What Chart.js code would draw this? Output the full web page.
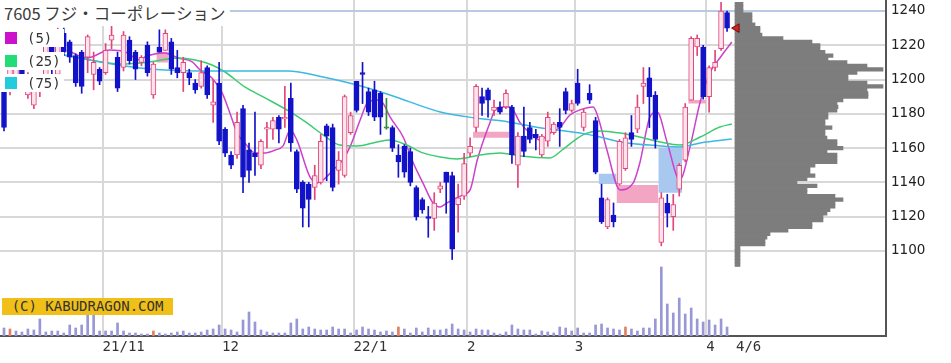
<!DOCTYPE html>
<html><head><meta charset="utf-8">
<script src="https://cdn.jsdelivr.net/npm/chart.js"></script>
<style>
html,body{margin:0;padding:0;background:#fff;}
#wrap{position:relative;width:951px;height:363px;overflow:hidden;background:#fff;}
#c{position:absolute;left:0;top:0;}
#title{position:absolute;left:0;top:0;width:230px;height:26px;background:#fff;font:16.5px "Noto Sans CJK JP";color:#3a3a3a;line-height:26px;padding-left:4px;box-sizing:border-box;white-space:nowrap;}
.lg{position:absolute;left:0;width:64px;height:18px;background:#fff;font:14px "DejaVu Sans Mono";color:#333;line-height:18px;}
.lg i{position:absolute;left:5px;top:3px;width:12px;height:12px;}
.lg span{position:absolute;left:27px;top:0;}
#copy{position:absolute;left:2px;top:298px;width:171px;height:17px;background:#f0c018;font:14px "DejaVu Sans Mono";color:#333;line-height:17px;text-align:center;white-space:nowrap;}
</style></head>
<body>
<div id="wrap">
<canvas id="c" width="951" height="363"></canvas>
<div id="title">7605 フジ・コーポレーション</div>
<div class="lg" style="top:29px"><i style="background:#cc11cc"></i><span>(5)</span></div>
<div class="lg" style="top:52px"><i style="background:#22dd77"></i><span>(25)</span></div>
<div class="lg" style="top:74px"><i style="background:#22ccdd"></i><span>(75)</span></div>
<div id="copy">(C) KABUDRAGON.COM</div>
</div>
<script>
// ---- categories: trading days ----
const tradingDays = {
  "2021-10": [7,8,11,12,13,14,15,18,19,20,21,22,25,26,27,28,29],
  "2021-11": [1,2,4,5,8,9,10,11,12,15,16,17,18,19,22,24,25,26,29,30],
  "2021-12": [1,2,3,6,7,8,9,10,13,14,15,16,17,20,21,22,23,24,27,28,29,30],
  "2022-01": [4,5,6,7,11,12,13,14,17,18,19,20,21,24,25,26,27,28,31],
  "2022-02": [1,2,3,4,7,8,9,10,14,15,16,17,18,21,22,24,25,28],
  "2022-03": [1,2,3,4,7,8,9,10,11,14,15,16,17,18,22,23,24,25,28,29,30,31],
  "2022-04": [1,4,5,6]
};
// ---- daily OHLC (yen) ----
const open = [
 1193,1195,1200,1213,1191,1185,1193,1201,1223,1203,
 1227,1222,1214,1216,1213,1203,1206,1204,1223,1213,
 1207,1223,1216,1210,1220,1191,1219,1217,1222,1207,
 1204,1204,1198,1196,1207,1185,1198,1171,1156,1156,
 1183,1159,1157,1150,1171,1171,1178,1177,1189,1158,
 1140,1139,1137,1140,1173,1172,1147,1144,1169,1199,
 1204,1193,1194,1192,1172,1172,1156,1161,1158,1137,
 1130,1120,1119,1136,1146,1144,1127,1132,1157,1172,
 1190,1194,1182,1184,1184,1184,1150,1167,1172,1168,
 1156,1164,1169,1175,1193,1182,1198,1172,1192,1176,
 1131,1114,1121,1139,1148,1169,1171,1196,1201,1191,
 1105,1128,1120,1136,1153,1188,1219,1219,1190,1207,
 1218,1239];
const high = [
 1196,1209,1214,1215,1204,1200,1200,1223,1226,1230,
 1230,1223,1215,1217,1226,1216,1207,1221,1231,1216,
 1228,1225,1217,1214,1222,1210,1229,1229,1224,1217,
 1213,1206,1200,1211,1208,1200,1210,1172,1158,1181,
 1185,1163,1181,1165,1175,1178,1179,1196,1198,1159,
 1141,1140,1150,1168,1174,1174,1158,1191,1181,1199,
 1210,1195,1199,1193,1189,1173,1162,1162,1160,1138,
 1131,1126,1134,1140,1146,1146,1139,1157,1166,1197,
 1195,1195,1188,1187,1194,1185,1169,1184,1175,1171,
 1168,1181,1175,1183,1195,1188,1206,1183,1197,1178,
 1139,1131,1128,1165,1169,1179,1191,1207,1207,1193,
 1134,1133,1133,1151,1186,1225,1226,1220,1208,1217,
 1245,1240];
const low = [
 1170,1191,1197,1199,1189,1183,1190,1199,1203,1201,
 1214,1210,1196,1192,1204,1194,1197,1203,1218,1193,
 1205,1209,1200,1208,1202,1189,1216,1217,1203,1201,
 1193,1197,1192,1195,1189,1175,1162,1155,1148,1154,
 1134,1140,1144,1148,1160,1165,1163,1172,1158,1134,
 1114,1114,1130,1139,1141,1135,1139,1143,1168,1181,
 1186,1179,1176,1168,1171,1158,1143,1143,1138,1118,
 1122,1108,1112,1134,1122,1095,1111,1130,1155,1169.5,
 1179,1178,1179,1180,1183,1151,1137,1155,1163,1159,
 1155,1161,1168,1161,1180,1181,1185,1170,1186,1145,
 1116,1113,1114,1138.5,1147,1161,1169,1186,1172,1160,
 1103,1114,1112,1132,1152,1188,1214,1188.5,1181,1205,
 1217,1228];
const close = [
 1172,1206,1211,1201,1201,1197,1197,1220,1206,1220,
 1216,1213,1198,1196,1225,1210,1199,1217,1226,1195,
 1226,1211,1206,1213,1204,1209,1216,1227,1206,1204,
 1210,1201,1194,1204,1191,1187,1164,1157,1150,1175,
 1143,1147,1155,1164,1172,1176,1171,1178,1163,1136,
 1125,1130,1144,1164,1167,1137,1153,1190,1179,1182,
 1203,1181,1178,1178,1172,1160,1152,1146,1140,1120,
 1124,1119,1128,1138,1140,1101,1131,1151,1161,1196,
 1186,1188,1184,1181,1192,1156,1167,1158,1165,1166,
 1167,1178,1174,1172,1182,1186,1186,1181,1188,1146,
 1117,1130,1117,1164,1166,1165,1184,1198,1190,1165,
 1131,1122,1127,1150,1184,1224,1224,1190,1207,1210,
 1240,1230];
// ---- volume (thousand shares) ----
const volume = [
 24,21,15,12,21,18,51,12,15,15,
 9,33,24,33,66,66,15,15,15,39,
 15,9,9,6,6,15,9,6,9,12,
 15,9,9,12,18,21,33,21,18,12,
 48,72,42,18,12,9,9,9,39,51,
 21,27,21,18,18,27,21,21,9,18,
 27,21,18,12,15,12,27,21,9,24,
 12,24,18,18,21,36,21,18,12,21,
 18,18,9,6,12,33,21,18,18,6,
 15,12,9,27,24,15,24,9,9,33,
 36,24,21,18,27,21,15,24,24,51,
 207,96,69,114,66,84,51,42,48,33,
 51,27];
const volumeMarked = [1,25,66,104];
// ---- moving averages: [day index, price] ----
const ma5 = [[10.5,1217.2],[13.9,1212.6],[17.7,1217.2],[20.3,1216.1],[22.8,1211.4],[23.6,1213.2],[26.9,1215.5],[29.1,1212.6],[31.5,1210.3],[32.8,1205.6],[34.8,1200.9],[36.5,1192.2],[37.8,1180.5],[39.0,1168.8],[40.3,1163.0],[42.0,1157.2],[43.7,1157.2],[45.4,1158.9],[46.7,1161.3],[47.9,1170.6],[49.0,1164.8],[51.2,1143.2],[52.4,1139.7],[53.4,1141.4],[55.1,1147.3],[56.7,1153.1],[57.9,1160.7],[59.6,1176.4],[60.8,1186.3],[62.4,1188.1],[63.4,1186.3],[64.6,1178.2],[66.8,1166.5],[68.5,1151.3],[70.1,1139.7],[71.8,1128.0],[73.0,1125.7],[74.1,1128.0],[75.1,1129.8],[76.8,1132.7],[78.0,1135.6],[79.2,1153.1],[81.3,1174.7],[82.2,1182.3],[83.5,1184.0],[84.7,1184.0],[86.4,1174.7],[88.0,1168.8],[89.7,1164.8],[91.4,1168.8],[93.1,1172.3],[94.7,1179.3],[96.4,1182.3],[98.6,1184.0],[99.4,1178.2],[100.9,1158.9],[103.1,1135.6],[105.3,1139.7],[106.4,1151.3],[108.1,1178.2],[109.3,1181.1],[111.0,1163.0],[113.1,1141.4],[114.8,1160.7],[116.5,1186.9],[118.2,1204.4],[119.8,1212.6],[121.8,1221.9]];
const ma25 = [[10.0,1214.3],[14.4,1211.4],[19.4,1209.1],[24.4,1210.3],[29.1,1212.6],[32.0,1211.4],[34.8,1208.5],[37.0,1204.4],[40.3,1195.7],[43.7,1189.3],[47.9,1181.1],[50.7,1174.7],[53.4,1167.7],[56.2,1161.8],[59.1,1161.3],[62.4,1163.6],[64.6,1164.8],[67.4,1161.8],[70.1,1157.2],[73.0,1154.8],[75.8,1153.7],[79.7,1156.0],[83.0,1157.2],[86.4,1155.4],[91.4,1154.3],[93.4,1158.9],[95.6,1164.8],[97.2,1168.3],[99.7,1170.0],[103.1,1168.8],[106.4,1166.5],[109.8,1163.6],[113.1,1161.8],[116.5,1166.5],[119.8,1172.3],[121.8,1174.1]];
const ma75 = [[10.0,1214.3],[16.1,1210.3],[22.8,1206.8],[26.9,1205.6],[37.0,1205.0],[47.5,1205.0],[53.4,1201.5],[59.1,1196.8],[64.6,1191.0],[73.0,1181.1],[78.8,1177.6],[84.4,1175.3],[88.9,1172.3],[97.2,1168.3],[99.7,1166.5],[103.1,1163.6],[109.8,1161.3],[113.1,1160.7],[116.5,1163.0],[121.8,1165.3]];
// ---- price-by-volume profile ----
const profilePrice = [1092,1094,1096,1098,1100,1102,1104,1106,1108,1110,1112,1114,1116,1118,1120,1122,1124,1126,1128,1130,1132,1134,1136,1138,1140,1142,1144,1146,1148,1150,1152,1154,1156,1158,1160,1162,1164,1166,1168,1170,1172,1174,1176,1178,1180,1182,1184,1186,1188,1190,1192,1194,1196,1198,1200,1202,1204,1206,1208,1210,1212,1214,1216,1218,1220,1222,1224,1226,1228,1230,1232,1234,1236,1238,1240,1242,1244];
const profileVolume = [5,5,5,5,5,5,30,30,32,35,53,77,77,88,88,92,95,100,100,108,100,72,72,82,62,72,80,75,75,80,102,102,102,92,108,102,102,92,90,90,97,90,90,93,93,102,103,102,108,133,133,132,148,132,113,113,122,148,132,112,93,98,90,85,85,77,48,27,25,25,20,17,17,17,8,8,8];
// ---- price gaps (windows): [first day, last day open, low, high, up?] ----
const gaps = [[26,27,1210,1216,1],[79,84,1166,1169.5,1],[100,102,1139,1145,0],[103,109,1128,1138.5,1],[110,113,1134,1160,0],[115,117,1186,1188,1]];
const priceTicks = [1100,1120,1140,1160,1180,1200,1220,1240];

// ---- build ----
const dates = [];
for (const [ym, days] of Object.entries(tradingDays)) {
  const [y, m] = ym.split('-').map(Number);
  days.forEach(d => dates.push({y, m, d}));
}
const N = dates.length;
const monthTicks = [];
for (let i = 1; i < N; i++) {
  if (dates[i].m !== dates[i-1].m) {
    const full = monthTicks.length === 0 || dates[i].m === 1;
    monthTicks.push({pos: i - 0.5, label: full ? String(dates[i].y).slice(2) + '/' + dates[i].m : String(dates[i].m), grid: true});
  }
}
monthTicks.push({pos: N + 0.5, label: dates[N-1].m + '/' + dates[N-1].d, grid: false});

const UP = '#e2457a', UPFILL = '#fce4ec', DOWN = '#1212c8', EVEN = '#2e8b3a';
const idx = [...Array(N).keys()];
const kind = i => close[i] > open[i] ? 'up' : (close[i] < open[i] ? 'down' : 'even');
const lineCol = i => ({up: UP, down: DOWN, even: EVEN})[kind(i)];
const fillCol = i => ({up: UPFILL, down: DOWN, even: EVEN})[kind(i)];

const datasets = [];
gaps.forEach(g => {
  datasets.push({
    type: 'line', order: 9, xAxisID: 'x', yAxisID: 'y',
    data: [{x: g[0] - 0.5, y: g[3]}, {x: g[1] + 0.5, y: g[3]}],
    borderWidth: 0, pointRadius: 0, fill: {value: g[2]},
    backgroundColor: g[4] ? '#f2a6c3' : '#a9c8f0', borderColor: 'rgba(0,0,0,0)'
  });
});
datasets.push({
  type: 'bar', order: 8, xAxisID: 'x', yAxisID: 'yv', grouped: false, barThickness: 2,
  data: idx.map(i => ({x: i, y: volume[i]})),
  backgroundColor: idx.map(i => volumeMarked.includes(i) ? '#e08066' : '#9898d6')
});
datasets.push({
  type: 'bar', order: 8, indexAxis: 'y', xAxisID: 'xp', yAxisID: 'y', grouped: false, barThickness: 3.6,
  data: profilePrice.map((p, k) => ({x: profileVolume[k], y: p})),
  backgroundColor: '#7d7d7d'
});
[[ma75, '#3cb9e0'], [ma25, '#3ccc70'], [ma5, '#cc40cc']].forEach(([arr, col]) => {
  datasets.push({
    type: 'line', order: 5, xAxisID: 'x', yAxisID: 'y',
    data: arr.map(p => ({x: p[0], y: p[1]})),
    borderColor: col, borderWidth: 1.5, pointRadius: 0, cubicInterpolationMode: 'monotone', fill: false
  });
});
datasets.push({
  type: 'bar', order: 3, xAxisID: 'x', yAxisID: 'y', grouped: false, barThickness: 1,
  data: idx.map(i => ({x: i, y: [low[i], high[i]]})),
  backgroundColor: idx.map(lineCol)
});
datasets.push({
  type: 'bar', order: 2, xAxisID: 'x', yAxisID: 'y', grouped: false, barThickness: 5,
  data: idx.map(i => ({x: i, y: open[i] === close[i] ? [open[i] - 0.4, close[i] + 0.4] : [open[i], close[i]]})),
  backgroundColor: idx.map(fillCol), borderColor: idx.map(lineCol), borderWidth: 1, borderSkipped: false
});
datasets.push({
  type: 'line', order: 1, xAxisID: 'x', yAxisID: 'y', showLine: false,
  data: [{x: N + 0.6, y: close[N-1]}],
  pointStyle: 'triangle', rotation: -90, pointRadius: 5, pointHoverRadius: 5,
  backgroundColor: '#d42020', borderColor: '#701010', borderWidth: 1
});

new Chart(document.getElementById('c'), {
  type: 'bar',
  data: {datasets},
  options: {
    responsive: false, animation: false, events: [],
    layout: {padding: 0, autoPadding: false},
    plugins: {legend: {display: false}, tooltip: {enabled: false}},
    scales: {
      x: {
        type: 'linear', min: -0.67, max: 147.6, offset: false, position: 'bottom',
        afterBuildTicks: s => { s.ticks = monthTicks.map(t => ({value: t.pos})); },
        afterFit: s => { s.height = 27; s.paddingLeft = 0; s.paddingRight = 0; },
        ticks: {autoSkip: false, maxRotation: 0, align: 'start', padding: 3, color: '#333',
                font: {family: 'DejaVu Sans Mono', size: 14},
                callback: (v, k) => monthTicks[k] ? monthTicks[k].label : ''},
        grid: {drawTicks: false, lineWidth: 2, offset: false,
               color: c => (c.index !== undefined && monthTicks[c.index] && monthTicks[c.index].grid) ? '#d8d8d8' : 'rgba(0,0,0,0)'},
        border: {display: true, color: '#555', width: 2}
      },
      y: {
        type: 'linear', position: 'right', min: 1050.4, max: 1246.4, offset: false,
        afterBuildTicks: s => { s.ticks = priceTicks.map(v => ({value: v})); },
        afterFit: s => { s.width = 65; s.paddingTop = 0; s.paddingBottom = 0; },
        ticks: {padding: 5, color: '#222', font: {family: 'DejaVu Sans', size: 13.5}, callback: v => String(v)},
        grid: {drawTicks: false, lineWidth: 2, offset: false,
               color: c => (c.tick && c.tick.value === 1240) ? '#b8cae3' : '#d8d8d8'},
        border: {display: true, color: '#555', width: 2}
      },
      yv: {type: 'linear', display: false, min: 0, max: 1008, offset: false},
      xp: {type: 'linear', display: false, min: -735, max: 151, offset: false}
    }
  }
});
</script>
</body></html>
